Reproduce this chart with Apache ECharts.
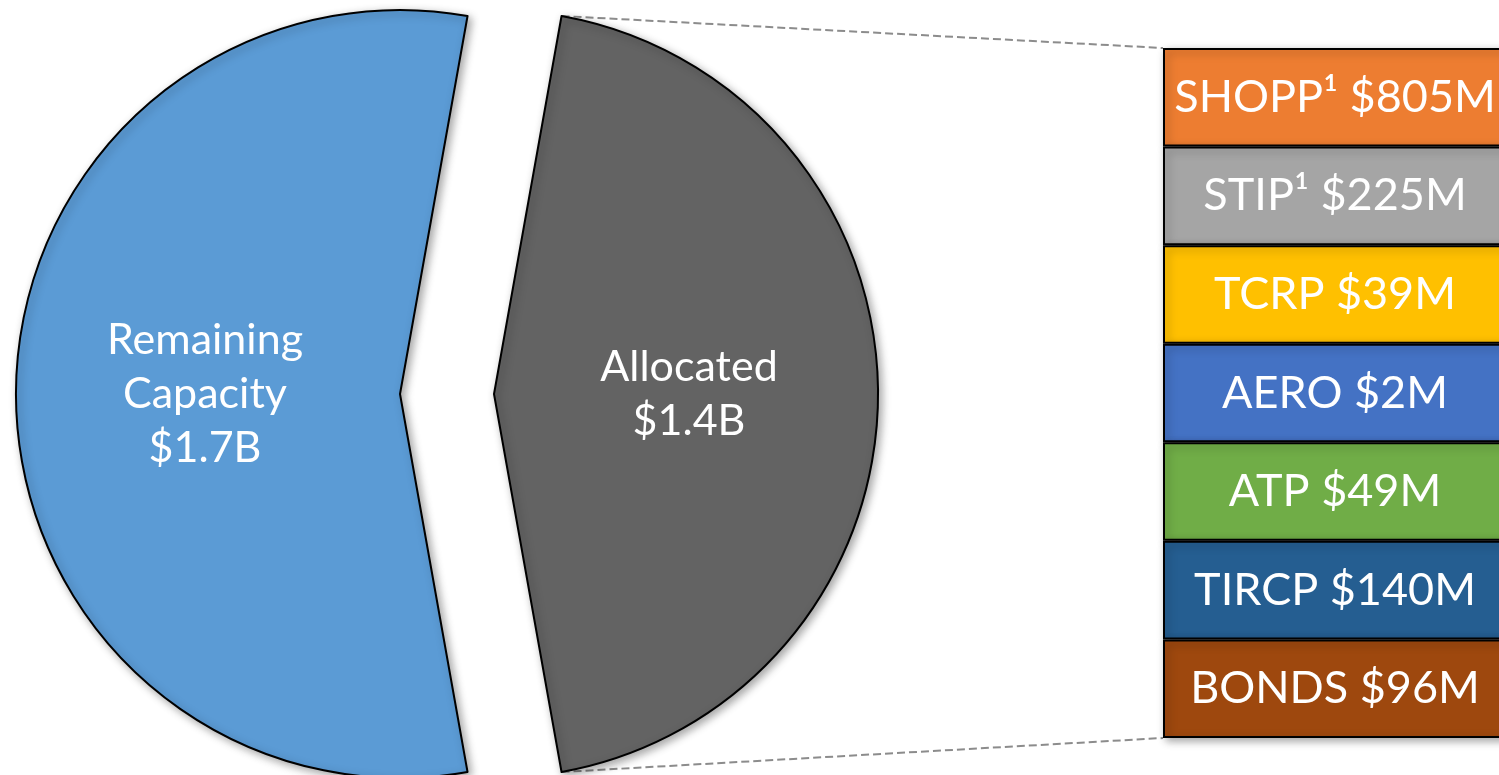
<!DOCTYPE html>
<html>
<head>
<meta charset="utf-8">
<script src="https://cdn.jsdelivr.net/npm/echarts@6/dist/echarts.min.js"></script>
<style>
html,body{margin:0;padding:0;background:#fff;}
#main{width:1499px;height:775px;}
</style>
</head>
<body>
<div id="main"></div>
<script>
// ---- data ----
const programs = ['SHOPP\u00B9', 'STIP\u00B9', 'TCRP', 'AERO', 'ATP', 'TIRCP', 'BONDS'];
const amountsM = [805, 225, 39, 2, 49, 140, 96];
const boxUnits = [1, 1, 1, 1, 1, 1, 1];          // boxes are drawn equal-sized
const boxColors = ['#ED7D31', '#A5A5A5', '#FFC000', '#4472C4', '#70AD47', '#255E91', '#9E480E'];
const pieNames = ['Allocated', 'Remaining\nCapacity'];
const pieValuesM = [1356, 1700];
const pieLabels = ['$1.4B', '$1.7B'];
const pieColors = ['#636363', '#5B9BD5'];

// ---- layout ----
const FONT = 'Lato';
const pieCenter = [447, 394];
const pieRadius = 384;
const pieOffset = 47;
const grid = { left: 1163, top: 48, width: 344, height: 690 };

const total = pieValuesM[0] + pieValuesM[1];
const startAngle = 360 * pieValuesM[0] / total / 2;

const shadow = { shadowBlur: 8, shadowColor: 'rgba(0,0,0,0.35)', shadowOffsetX: 3, shadowOffsetY: 3 };

const chart = echarts.init(document.getElementById('main'));

// connector points computed from pie geometry and grid
const a = startAngle * Math.PI / 180;
const gx = pieCenter[0] + pieOffset;
const topCorner = [gx + pieRadius * Math.cos(a), pieCenter[1] - pieRadius * Math.sin(a)];
const botCorner = [gx + pieRadius * Math.cos(a), pieCenter[1] + pieRadius * Math.sin(a)];
const boxTL = [grid.left, grid.top];
const boxBL = [grid.left, grid.top + grid.height];

chart.setOption({
  animation: false,
  backgroundColor: '#fff',
  grid: Object.assign({ containLabel: false, outerBoundsMode: 'none' }, grid),
  xAxis: { type: 'value', min: 0, max: 1, show: false },
  yAxis: { type: 'category', data: programs, inverse: true, show: false },
  graphic: [
    { type: 'polyline', z: 0, shape: { points: [topCorner, boxTL] },
      style: { stroke: '#8c8c8c', lineWidth: 2, lineDash: [8, 4], fill: null } },
    { type: 'polyline', z: 0, shape: { points: [botCorner, boxBL] },
      style: { stroke: '#8c8c8c', lineWidth: 2, lineDash: [8, 4], fill: null } }
  ],
  series: [
    {
      type: 'pie',
      z: 3,
      center: pieCenter,
      radius: pieRadius,
      startAngle: startAngle,
      clockwise: true,
      selectedMode: 'multiple',
      selectedOffset: pieOffset,
      emphasis: { disabled: true },
      itemStyle: Object.assign({ borderColor: '#000', borderWidth: 2 }, shadow),
      label: {
        position: 'inside',
        color: '#fff',
        fontFamily: FONT,
        fontSize: 43,
        lineHeight: 54,
        align: 'center',
        formatter: p => p.name + '\n' + pieLabels[p.dataIndex]
      },
      labelLine: { show: false },
      data: pieNames.map((n, i) => ({
        name: n, value: pieValuesM[i], selected: true,
        itemStyle: { color: pieColors[i] }
      }))
    },
    {
      type: 'bar',
      z: 3,
      barCategoryGap: 0,
      barWidth: '100%',
      emphasis: { disabled: true },
      itemStyle: Object.assign({ borderColor: '#000', borderWidth: 2 }, shadow),
      label: {
        show: true,
        position: 'inside',
        color: '#fff',
        fontFamily: FONT,
        fontSize: 45,
        formatter: p => programs[p.dataIndex] + ' $' + amountsM[p.dataIndex] + 'M'
      },
      data: boxUnits.map((v, i) => ({ value: v, itemStyle: { color: boxColors[i] } }))
    }
  ]
});
</script>
</body>
</html>
